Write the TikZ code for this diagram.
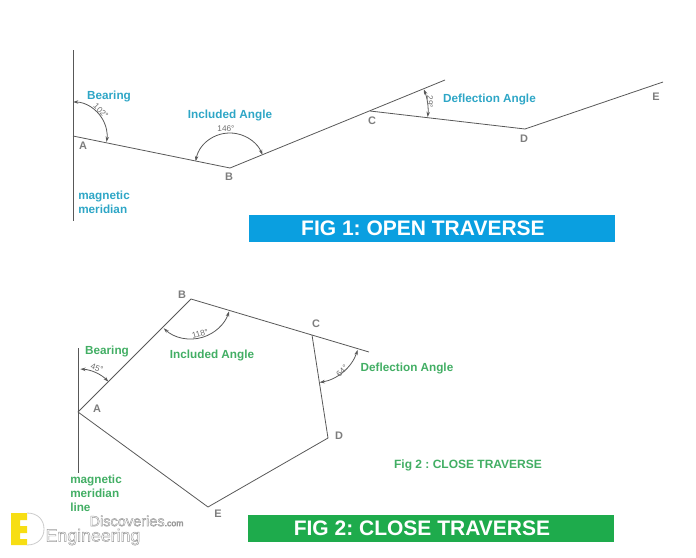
\documentclass[tikz,border=0pt]{standalone}
\usepackage{amsmath}
\usepackage{fontspec}
\setmainfont{Liberation Sans}
\usetikzlibrary{arrows.meta}
\frenchspacing
\definecolor{linegray}{RGB}{88,88,88}
\definecolor{lettergray}{RGB}{125,125,125}
\definecolor{valuegray}{RGB}{110,110,110}
\definecolor{openblue}{RGB}{46,166,198}
\definecolor{closegreen}{RGB}{66,174,100}
\definecolor{barblue}{RGB}{10,159,224}
\definecolor{bargreen}{RGB}{30,171,76}
\definecolor{logoyellow}{RGB}{247,222,20}
\newcommand{\outlinetext}[1]{\special{pdf: code q 1 Tr 0.35 w 0.6 0.6 0.6 RG}#1\special{pdf: code Q}}
\tikzset{
  traverseline/.style={draw=linegray,line width=0.6pt},
  anglearc/.style={draw=linegray,line width=0.6pt,{Stealth[length=4pt,width=2.6pt]}-{Stealth[length=4pt,width=2.6pt]}},
  pointlabel/.style={text=lettergray,font=\bfseries\fontsize{8.2}{10}\selectfont,inner sep=0pt},
  anglevalue/.style={text=valuegray,font=\fontsize{6.2}{7}\selectfont,inner sep=0pt},
  openlabel/.style={text=openblue,font=\bfseries\fontsize{8.8}{10.6}\selectfont,inner sep=0pt,align=left},
  closelabel/.style={text=closegreen,font=\bfseries\fontsize{8.8}{10.6}\selectfont,inner sep=0pt,align=left},
  figbar/.style={text=white,font=\bfseries\fontsize{15.75}{18}\selectfont,inner sep=0pt,minimum width=274.5pt,minimum height=20pt},
}
\begin{document}
\begin{tikzpicture}[x=0.75pt,y=0.75pt,yscale=-1,xscale=1]
\useasboundingbox (0,0) rectangle (696,557);

%Fig 1 stations
\coordinate (oA) at (73,136);
\coordinate (oB) at (230,168);
\coordinate (oC) at (370,111);
\coordinate (oD) at (525,129);
\coordinate (oCend) at (445,80);
\coordinate (oEend) at (663,82);
\coordinate (oNtop) at (73,50);
\coordinate (oNbot) at (73,221);

%Fig 1 lines
\draw [traverseline] (oNtop) -- (oNbot);
\draw [traverseline] (oA) -- (oB) -- (oCend);
\draw [traverseline] (oC) -- (oD) -- (oEend);

%Fig 1 arcs
\draw [anglearc] ([shift={(-90:34)}]oA) arc [start angle=-90,end angle=10,radius=34];
\draw [anglearc] ([shift={(191:35)}]oB) arc [start angle=191,end angle=338,radius=35];
\draw [anglearc] ([shift={(-22:58)}]oC) arc [start angle=-22,end angle=6,radius=58];

% Text Node
\node [pointlabel] (lblA) at (83,146) {A};
\node [pointlabel] (lblB) at (229,177) {B};
\node [pointlabel] (lblC) at (372,121) {C};
\node [pointlabel] (lblD) at (524,139) {D};
\node [pointlabel] (lblE) at (656,97) {E};
\node [anglevalue,rotate=-45] (valbearing) at (101,111) {102°};
\node [anglevalue] (valincluded) at (226,129) {146°};
\node [anglevalue,rotate=-90] (valdeflect) at (430,102) {29°};
\node [openlabel] (bearing) at (109,96.5) {Bearing};
\node [openlabel] (included) at (230,115.5) {Included Angle};
\node [openlabel] (deflect) at (489.5,99) {Deflection Angle};
\node [openlabel,anchor=west] (meridian) at (78,202) {magnetic\\meridian};
\node [figbar,fill=barblue,anchor=north west] (figone) at (249,215) {FIG 1: OPEN TRAVERSE\kern14pt};

%Fig 2 stations
\coordinate (cA) at (78,412);
\coordinate (cB) at (191,299);
\coordinate (cC) at (312,335);
\coordinate (cD) at (328,438);
\coordinate (cE) at (208,507);
\coordinate (cCend) at (369,352);
\coordinate (cNtop) at (78,348);
\coordinate (cNbot) at (78,473);

%Fig 2 lines
\draw [traverseline] (cNtop) -- (cNbot);
\draw [traverseline] (cA) -- (cB) -- (cCend);
\draw [traverseline] (cC) -- (cD) -- (cE) -- (cA);

%Fig 2 arcs
\draw [anglearc] ([shift={(-87:43)}]cA) arc [start angle=-87,end angle=-45,radius=43];
\draw [anglearc] ([shift={(133:40)}]cB) arc [start angle=133,end angle=18,radius=40];
\draw [anglearc] ([shift={(18:48)}]cC) arc [start angle=18,end angle=81,radius=48];

% Text Node
\node [pointlabel] (lblcA) at (97,409) {A};
\node [pointlabel] (lblcB) at (182,295) {B};
\node [pointlabel] (lblcC) at (316,324) {C};
\node [pointlabel] (lblcD) at (339,436) {D};
\node [pointlabel] (lblcE) at (218,514) {E};
\node [anglevalue,rotate=-20] (valcbearing) at (97,368) {45°};
\node [anglevalue,rotate=15] (valcincluded) at (200,334) {118°};
\node [anglevalue,rotate=45] (valcdeflect) at (342,371) {64°};
\node [closelabel] (cbearing) at (107,351) {Bearing};
\node [closelabel] (cincluded) at (212,355) {Included Angle};
\node [closelabel] (cdeflect) at (407,368) {Deflection Angle};
\node [closelabel,anchor=west] (cmeridian) at (70,493) {magnetic\\meridian\\line};
\node [closelabel,font=\bfseries\fontsize{9}{10}\selectfont] (figcaption) at (468,465) {Fig 2 : CLOSE TRAVERSE};
\node [figbar,fill=bargreen,anchor=north west] (figtwo) at (248,515) {FIG 2: CLOSE TRAVERSE\kern14pt};

%Logo
\fill [logoyellow] (11,513) -- (27,513) -- (27,520) -- (20,520) -- (20,526) -- (27,526) -- (27,533) -- (20,533) -- (20,539) -- (27,539) -- (27,545) -- (11,545) -- cycle;
\draw [lettergray!40,line width=0.6pt] (27,513) .. controls (38,513) and (44,520) .. (44,529) .. controls (44,538) and (38,545) .. (27,545);
\node [inner sep=0pt,text=white,font=\fontsize{10.9}{14}\selectfont] (logotop) at (136.5,521) {\outlinetext{Discoveries{\fontsize{6.5}{8}\selectfont .com}}};
\node [inner sep=0pt,text=white,font=\fontsize{13.3}{16}\selectfont] (logobottom) at (93,537) {\outlinetext{Engineering}};
\end{tikzpicture}
\end{document}
